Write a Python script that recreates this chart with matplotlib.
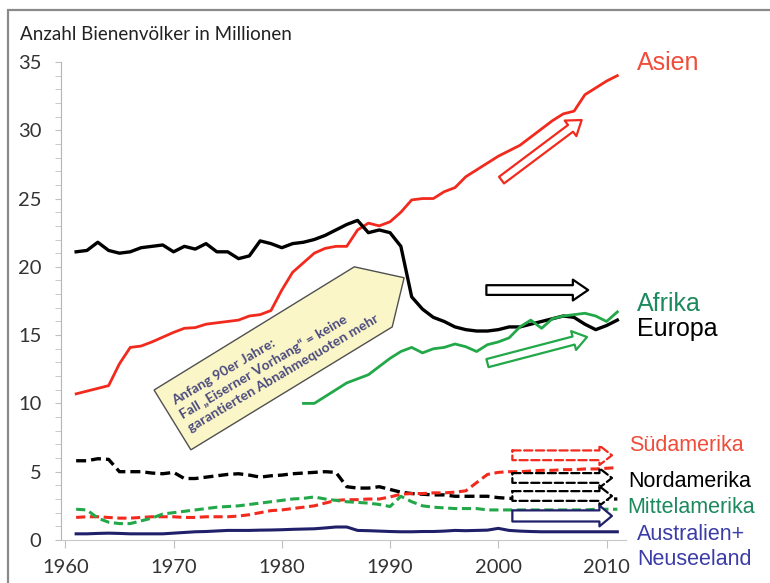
import matplotlib
matplotlib.use('Agg')
import matplotlib.pyplot as plt
import matplotlib.patches as mpatches
from matplotlib.ticker import MultipleLocator
import numpy as np

# Bee colonies in millions
years = list(range(1961, 2012))

asien = [10.7, 10.9, 11.1, 11.3, 12.9, 14.1, 14.2, 14.5, 14.85, 15.2,
         15.5, 15.55, 15.8, 15.9, 16.0, 16.1, 16.4, 16.5, 16.8, 18.3,
         19.6, 20.3, 21.0, 21.35, 21.5, 21.5, 22.7, 23.2, 23.0, 23.3,
         24.0, 24.9, 25.0, 25.0, 25.5, 25.8, 26.6, 27.1, 27.6, 28.1,
         28.5, 28.9, 29.5, 30.1, 30.7, 31.2, 31.4, 32.6, 33.1, 33.6, 34.0]

europa = [21.1, 21.2, 21.8, 21.2, 21.0, 21.1, 21.4, 21.5, 21.6, 21.1,
          21.5, 21.3, 21.7, 21.1, 21.1, 20.6, 20.8, 21.9, 21.7, 21.4,
          21.7, 21.8, 22.0, 22.3, 22.7, 23.1, 23.4, 22.5, 22.7, 22.5,
          21.5, 17.8, 16.9, 16.3, 16.0, 15.6, 15.4, 15.3, 15.3, 15.4,
          15.6, 15.6, 15.8, 16.0, 16.2, 16.4, 16.3, 15.8, 15.4, 15.7, 16.1]

afrika_years = list(range(1982, 2012))
afrika = [10.0, 10.0, 10.5, 11.0, 11.5, 11.8, 12.1, 12.7, 13.3, 13.8,
          14.1, 13.7, 14.0, 14.1, 14.35, 14.15, 13.8, 14.3, 14.5, 14.8,
          15.6, 16.1, 15.5, 16.2, 16.4, 16.5, 16.6, 16.4, 16.0, 16.7]

nordamerika = [5.8, 5.8, 5.95, 5.9, 5.0, 5.0, 5.0, 4.9, 4.85, 4.95,
               4.5, 4.5, 4.6, 4.7, 4.8, 4.85, 4.75, 4.6, 4.7, 4.75,
               4.85, 4.9, 4.95, 5.0, 4.95, 3.9, 3.8, 3.8, 3.9, 3.7,
               3.5, 3.4, 3.35, 3.3, 3.3, 3.2, 3.2, 3.2, 3.2, 3.1,
               3.05, 3.0, 3.1, 3.0, 3.0, 3.1, 3.0, 3.0, 3.0, 3.0, 3.0]

suedamerika = [1.65, 1.7, 1.7, 1.65, 1.6, 1.6, 1.65, 1.7, 1.7, 1.7,
               1.65, 1.65, 1.7, 1.7, 1.7, 1.75, 1.85, 2.0, 2.15, 2.2,
               2.3, 2.4, 2.5, 2.7, 2.9, 2.95, 2.95, 3.0, 3.0, 3.15,
               3.35, 3.4, 3.4, 3.45, 3.45, 3.5, 3.6, 4.2, 4.8, 4.95,
               5.0, 5.0, 5.05, 5.1, 5.1, 5.15, 5.15, 5.2, 5.2, 5.25, 5.3]

mittelamerika = [2.25, 2.2, 1.6, 1.3, 1.2, 1.2, 1.4, 1.6, 1.9, 2.0,
                 2.1, 2.2, 2.3, 2.4, 2.45, 2.5, 2.6, 2.7, 2.8, 2.9,
                 3.0, 3.05, 3.15, 3.0, 2.9, 2.8, 2.75, 2.7, 2.6, 2.45,
                 3.2, 2.8, 2.5, 2.4, 2.35, 2.3, 2.3, 2.3, 2.2, 2.2,
                 2.2, 2.2, 2.2, 2.2, 2.2, 2.2, 2.2, 2.2, 2.25, 2.25, 2.25]

australien = [0.45, 0.45, 0.48, 0.5, 0.48, 0.45, 0.45, 0.45, 0.45, 0.5,
              0.55, 0.6, 0.62, 0.66, 0.7, 0.7, 0.7, 0.72, 0.73, 0.75,
              0.78, 0.8, 0.82, 0.88, 0.95, 0.95, 0.7, 0.68, 0.65, 0.62,
              0.6, 0.6, 0.62, 0.62, 0.65, 0.7, 0.68, 0.7, 0.72, 0.85,
              0.7, 0.65, 0.62, 0.6, 0.6, 0.6, 0.6, 0.6, 0.6, 0.6, 0.6]

RED = '#f22a1e'
RED_TXT = '#f04c3a'
GREEN = '#22a848'
GREEN_TXT = '#1c8a5c'
NAVY = '#1f1f6a'
NAVY_TXT = '#3c3ca8'

fig = plt.figure(figsize=(7.7, 5.83), dpi=100)
ax = fig.add_axes([0.0792, 0.0738, 0.7338, 0.8199])

# frame around the whole picture (runs off to the right and bottom)
fig.patches.append(mpatches.Rectangle((0.0104, -0.2), 1.5, 1.183, transform=fig.transFigure,
                                      fill=False, ec='#8a8a8a', lw=1.6))

ax.plot(years, asien, color=RED, lw=2.0)
ax.plot(years, europa, color='black', lw=2.4)
ax.plot(afrika_years, afrika, color=GREEN, lw=2.0)
ax.plot(years, nordamerika, color='black', lw=2.4, dashes=(3.0, 1.5))
ax.plot(years, suedamerika, color=RED, lw=2.2, dashes=(3.0, 1.5))
ax.plot(years, mittelamerika, color=GREEN, lw=2.2, dashes=(3.0, 1.5))
ax.plot(years, australien, color=NAVY, lw=2.2)

ax.set_xlim(1959.6, 2011.8)
ax.set_ylim(0, 35)
ax.set_xticks([1960, 1970, 1980, 1990, 2000, 2010])
ax.yaxis.set_major_locator(MultipleLocator(5))
ax.yaxis.set_minor_locator(MultipleLocator(1))
for s in ['top', 'right']:
    ax.spines[s].set_visible(False)
ax.spines['left'].set_color('#b5b5b5')
ax.spines['bottom'].set_color('#c8c8c8')
ax.tick_params(axis='y', which='both', direction='out', length=4, color='#c0c0c0',
               labelsize=14.5, labelcolor='#333333', pad=10)
ax.tick_params(axis='x', direction='out', length=6, color='#c0c0c0',
               labelsize=14.5, labelcolor='#333333', pad=8)
for lab in ax.get_xticklabels() + ax.get_yticklabels():
    lab.set_family('Lato')

fig.text(20 / 770, 1 - 34 / 583, 'Anzahl Bienenvölker in Millionen', family='Lato',
         fontsize=13.5, color='#222222', va='center', ha='left')


def hollow_arrow(x0, y0, x1, y1, color, ls='-', tw=6, hw=14, hl=10):
    style = mpatches.ArrowStyle.Simple(head_length=hl, head_width=hw, tail_width=tw)
    p = mpatches.FancyArrowPatch((x0, y0), (x1, y1), arrowstyle=style, mutation_scale=1,
                                 fc='white', ec=color, lw=1.6, ls=ls,
                                 shrinkA=0, shrinkB=0, zorder=5)
    ax.add_patch(p)


hollow_arrow(2000.3, 26.35, 2007.7, 30.75, RED)
hollow_arrow(1998.9, 18.3, 2008.3, 18.3, 'black', tw=7, hw=15, hl=11)
hollow_arrow(1999.0, 12.95, 2008.2, 14.86, GREEN)
hollow_arrow(2001.3, 6.2, 2010.5, 6.2, RED, ls='--', tw=7, hw=14, hl=9)
hollow_arrow(2001.3, 4.54, 2010.5, 4.54, 'black', ls='--', tw=7, hw=14, hl=9)
hollow_arrow(2001.3, 3.22, 2010.5, 3.22, 'black', ls='--', tw=7, hw=14, hl=9)
hollow_arrow(2001.3, 1.76, 2010.5, 1.76, NAVY, tw=8, hw=15, hl=9)

# callout box "Eiserner Vorhang"
callout = [(1968.2, 10.98), (1986.7, 20.0), (1991.3, 19.2), (1990.2, 15.6), (1971.6, 6.6)]
ax.add_patch(mpatches.Polygon(callout, closed=True, fc='#fbf6c8', ec='#505050', lw=1.0, zorder=6))
ax.text(1979.4, 13.2, 'Anfang 90er Jahre:\nFall \u201eEiserner Vorhang\u201c = keine\ngarantierten Abnahmequoten mehr',
        family='Lato', fontsize=10, fontweight='bold', color='#4a4a7e', rotation=30.5,
        rotation_mode='anchor', ha='center', va='center', multialignment='left',
        linespacing=1.3, zorder=7)

# region labels on the right
labels = [
    ('Asien', 2012.8, 34.9, RED_TXT, 18),
    ('Afrika', 2012.8, 17.3, GREEN_TXT, 18),
    ('Europa', 2012.8, 15.45, 'black', 18),
    ('Südamerika', 2012.05, 6.95, RED_TXT, 15.5),
    ('Nordamerika', 2012.05, 4.3, 'black', 15.5),
    ('Mittelamerika', 2011.9, 2.4, GREEN_TXT, 15.5),
    ('Australien+', 2012.8, 0.37, NAVY_TXT, 15.5),
    ('Neuseeland', 2012.8, -1.46, NAVY_TXT, 15.5),
]
for txt, x, y, c, fs in labels:
    ax.text(x, y, txt, color=c, fontsize=fs, family='Liberation Sans',
            ha='left', va='center', clip_on=False, zorder=8)

plt.savefig('out.png', dpi=100, facecolor='white')
